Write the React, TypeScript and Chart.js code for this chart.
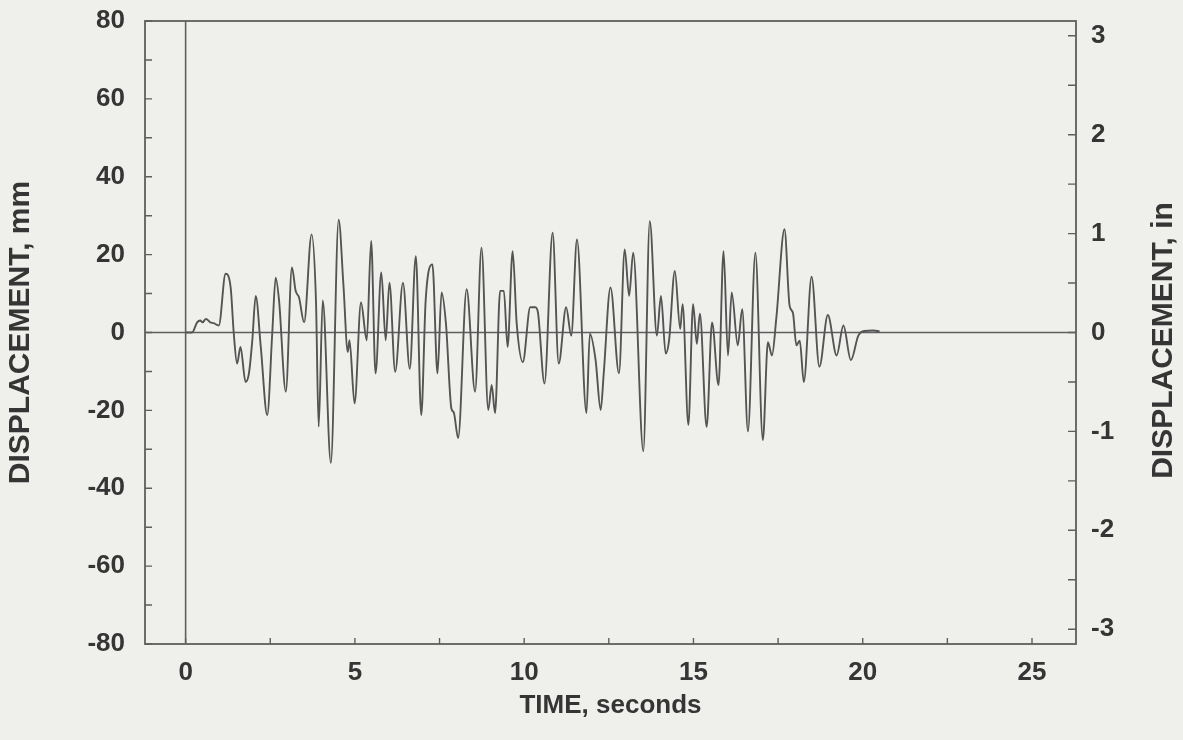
import React, { useEffect, useRef } from 'react';
import { Chart, registerables } from 'chart.js';

Chart.register(...registerables);

// Time history (seconds, mm)
const timeSeconds = [
  0, 0.19, 0.34, 0.43, 0.5, 0.6, 0.73, 0.83, 0.98, 1.18, 1.33, 1.42, 1.52, 1.62, 1.77, 1.87, 1.97,
  2.07, 2.22, 2.41, 2.56, 2.66, 2.76, 2.96, 3.14, 3.25, 3.35, 3.5, 3.72, 3.85, 3.93, 4.05, 4.29,
  4.52, 4.66, 4.79, 4.84, 4.99, 5.18, 5.35, 5.48, 5.61, 5.78, 5.91, 6.02, 6.19, 6.42, 6.62, 6.8,
  6.96, 7.09, 7.29, 7.44, 7.56, 7.69, 7.85, 7.92, 8.05, 8.3, 8.55, 8.74, 8.94, 9.04, 9.14, 9.29,
  9.4, 9.51, 9.66, 9.78, 9.96, 10.18, 10.33, 10.41, 10.6, 10.84, 11.02, 11.24, 11.39, 11.56,
  11.84, 11.94, 12.11, 12.26, 12.35, 12.55, 12.8, 12.97, 13.1, 13.22, 13.52, 13.71, 13.92, 14.04,
  14.18, 14.28, 14.45, 14.61, 14.68, 14.85, 14.99, 15.1, 15.19, 15.39, 15.55, 15.74, 15.89, 16.02,
  16.13, 16.31, 16.44, 16.61, 16.83, 17.05, 17.2, 17.32, 17.45, 17.69, 17.84, 17.94, 18.04, 18.14,
  18.26, 18.49, 18.72, 18.97, 19.23, 19.43, 19.65, 19.87, 20.05, 20.3, 20.5,
];

const displacementMm = [
  0, 0, 2.6, 3.1, 2.6, 3.5, 2.6, 2.4, 1.8, 15.1, 11.6, 0, -8.0, -3.7, -12.7, -10.5, -2.0,
  9.4, -3.7, -21.2, 0, 14.1, 8.2, -15.2, 16.7, 10.7, 9.0, 2.6, 25.2, 8.2, -24.2, 8.2, -33.5,
  29.0, 12.4, -5.0, -2.0, -18.2, 7.7, -2.0, 23.5, -10.5, 15.4, -2.0, 12.8, -10.1, 12.8, -9.3, 19.6,
  -21.2, 8.2, 17.5, -10.5, 10.3, 2.2, -19.5, -20.5, -27.1, 11.1, -15.2, 21.8, -19.9, -13.5, -20.7, 10.7,
  10.7, -3.7, 20.9, 2.2, -7.6, 6.5, 6.5, 5.0, -13.1, 25.6, -8.0, 6.5, -0.8, 23.9,
  -20.7, -0.3, -7.1, -19.9, -10.5, 11.6, -10.5, 21.3, 9.4, 20.5, -30.5, 28.6, -0.8, 9.4,
  -5.4, -2.0, 15.8, 0.9, 7.3, -23.7, 7.3, -2.9, 4.8, -24.2, 2.6, -13.5, 20.9, -5.9,
  10.3, -3.3, 6.0, -25.4, 20.5, -27.6, -2.5, -5.9, 3.9, 26.5, 6.9, 5.0, -3.3, -2.1,
  -12.7, 14.3, -8.8, 4.5, -5.9, 1.8, -7.1, -0.8, 0.4, 0.5, 0.3,
];

// Axis labels and tick marks
const timeTickLabels = [0, 5, 10, 15, 20, 25];
const timeTickMarks = [0, 2.5, 5, 7.5, 10, 12.5, 15, 17.5, 20, 22.5, 25];
const mmTickLabels = [-80, -60, -40, -20, 0, 20, 40, 60, 80];
const mmTickMarks = [-80, -70, -60, -50, -40, -30, -20, -10, 0, 10, 20, 30, 40, 50, 60, 70, 80];
const inchTickLabels = [-3, -2, -1, 0, 1, 2, 3];
const inchTickMarks = [-3, -2.5, -2, -1.5, -1, -0.5, 0, 0.5, 1, 1.5, 2, 2.5, 3];

const X_TITLE = 'TIME, seconds';
const Y_TITLE = 'DISPLACEMENT, mm';
const Y2_TITLE = 'DISPLACEMENT, in';

const TIME_MIN = -1.2;
const TIME_MAX = 26.3;
const MM_LIMIT = 80;
const MM_PER_INCH = 25.4;

const INK = '#353535';
const FRAME = '#5e5e5e';
const FONT = 'Liberation Sans, Arial, Helvetica, sans-serif';

const framePlugin = {
  id: 'frameAndTicks',
  beforeDatasetsDraw(chart: any) {
    const { ctx, chartArea: a, scales } = chart;
    const y0 = scales.y.getPixelForValue(0);
    const x0 = scales.x.getPixelForValue(0);
    ctx.save();
    ctx.strokeStyle = FRAME;
    ctx.lineWidth = 1.6;
    ctx.beginPath();
    ctx.moveTo(a.left, y0);
    ctx.lineTo(a.right, y0);
    ctx.moveTo(x0, a.top);
    ctx.lineTo(x0, a.bottom);
    ctx.stroke();
    ctx.restore();
  },
  afterDraw(chart: any) {
    const { ctx, chartArea: a, scales } = chart;
    ctx.save();
    ctx.strokeStyle = FRAME;
    ctx.lineWidth = 1.8;
    ctx.strokeRect(a.left, a.top, a.right - a.left, a.bottom - a.top);
    ctx.lineWidth = 1.4;
    ctx.beginPath();
    for (const v of mmTickMarks) {
      const p = scales.y.getPixelForValue(v);
      ctx.moveTo(a.left, p);
      ctx.lineTo(a.left + 7, p);
    }
    for (const v of inchTickMarks) {
      const p = scales.y2.getPixelForValue(v);
      ctx.moveTo(a.right, p);
      ctx.lineTo(a.right - 8, p);
    }
    for (const v of timeTickMarks) {
      const p = scales.x.getPixelForValue(v);
      ctx.moveTo(p, a.bottom);
      ctx.lineTo(p, a.bottom - 6);
    }
    ctx.stroke();
    // right-hand axis title, reading bottom to top like the left one
    ctx.translate(1164, (a.top + a.bottom) / 2 + 8);
    ctx.rotate(-Math.PI / 2);
    ctx.fillStyle = INK;
    ctx.font = `bold 30px ${FONT}`;
    ctx.textAlign = 'center';
    ctx.textBaseline = 'middle';
    ctx.fillText(Y2_TITLE, 0, 0);
    ctx.restore();
  },
};

export default function App() {
  const canvasRef = useRef<HTMLCanvasElement | null>(null);

  useEffect(() => {
    document.body.style.margin = '0';
    const canvas = canvasRef.current;
    if (!canvas) return;
    const points = timeSeconds.map((t, i) => ({ x: t, y: displacementMm[i] }));
    const tickFont = { family: FONT, size: 26, weight: 'bold' as const };
    const chart = new Chart(canvas, {
      type: 'line',
      data: {
        datasets: [
          {
            data: points,
            borderColor: '#545454',
            borderWidth: 1.9,
            pointRadius: 0,
            tension: 0.4,
            cubicInterpolationMode: 'monotone',
            fill: false,
          },
        ],
      },
      options: {
        animation: false,
        responsive: false,
        devicePixelRatio: 1,
        layout: { padding: { top: 21, left: 0, right: 0, bottom: 0 } },
        plugins: { legend: { display: false }, tooltip: { enabled: false } },
        scales: {
          x: {
            type: 'linear',
            position: 'bottom',
            min: TIME_MIN,
            max: TIME_MAX,
            grid: { display: false, drawTicks: false },
            border: { display: false },
            afterBuildTicks: (s: any) => {
              s.ticks = timeTickLabels.map((v) => ({ value: v }));
            },
            afterFit: (s: any) => {
              s.height = 96;
              s.paddingLeft = 0;
              s.paddingRight = 0;
            },
            ticks: { padding: 13, font: tickFont, color: INK, maxRotation: 0, autoSkip: false },
            title: {
              display: true,
              text: X_TITLE,
              color: INK,
              font: { family: FONT, size: 26, weight: 'bold' },
              padding: { top: 0, bottom: 19 },
            },
          },
          y: {
            type: 'linear',
            position: 'left',
            min: -MM_LIMIT,
            max: MM_LIMIT,
            grid: { display: false, drawTicks: false },
            border: { display: false },
            afterBuildTicks: (s: any) => {
              s.ticks = mmTickLabels.map((v) => ({ value: v }));
            },
            afterFit: (s: any) => {
              s.width = 145;
              s.paddingTop = 0;
              s.paddingBottom = 0;
            },
            ticks: { padding: 20, font: tickFont, color: INK, autoSkip: false },
            title: {
              display: true,
              text: Y_TITLE,
              color: INK,
              font: { family: FONT, size: 30, weight: 'bold' },
              padding: { top: 3, bottom: 0 },
            },
          },
          y2: {
            type: 'linear',
            position: 'right',
            min: -MM_LIMIT / MM_PER_INCH,
            max: MM_LIMIT / MM_PER_INCH,
            grid: { display: false, drawTicks: false },
            border: { display: false },
            afterBuildTicks: (s: any) => {
              s.ticks = inchTickLabels.map((v) => ({ value: v }));
            },
            afterFit: (s: any) => {
              s.width = 107;
              s.paddingTop = 0;
              s.paddingBottom = 0;
            },
            ticks: { padding: 15, font: tickFont, color: INK, autoSkip: false },
            title: { display: false },
          },
        },
      },
      plugins: [framePlugin],
    });
    return () => chart.destroy();
  }, []);

  return (
    <div
      style={{
        position: 'fixed',
        left: 0,
        top: 0,
        width: 1183,
        height: 740,
        background: '#efefec',
      }}
    >
      <canvas ref={canvasRef} width={1183} height={740} style={{ display: 'block' }} />
    </div>
  );
}
